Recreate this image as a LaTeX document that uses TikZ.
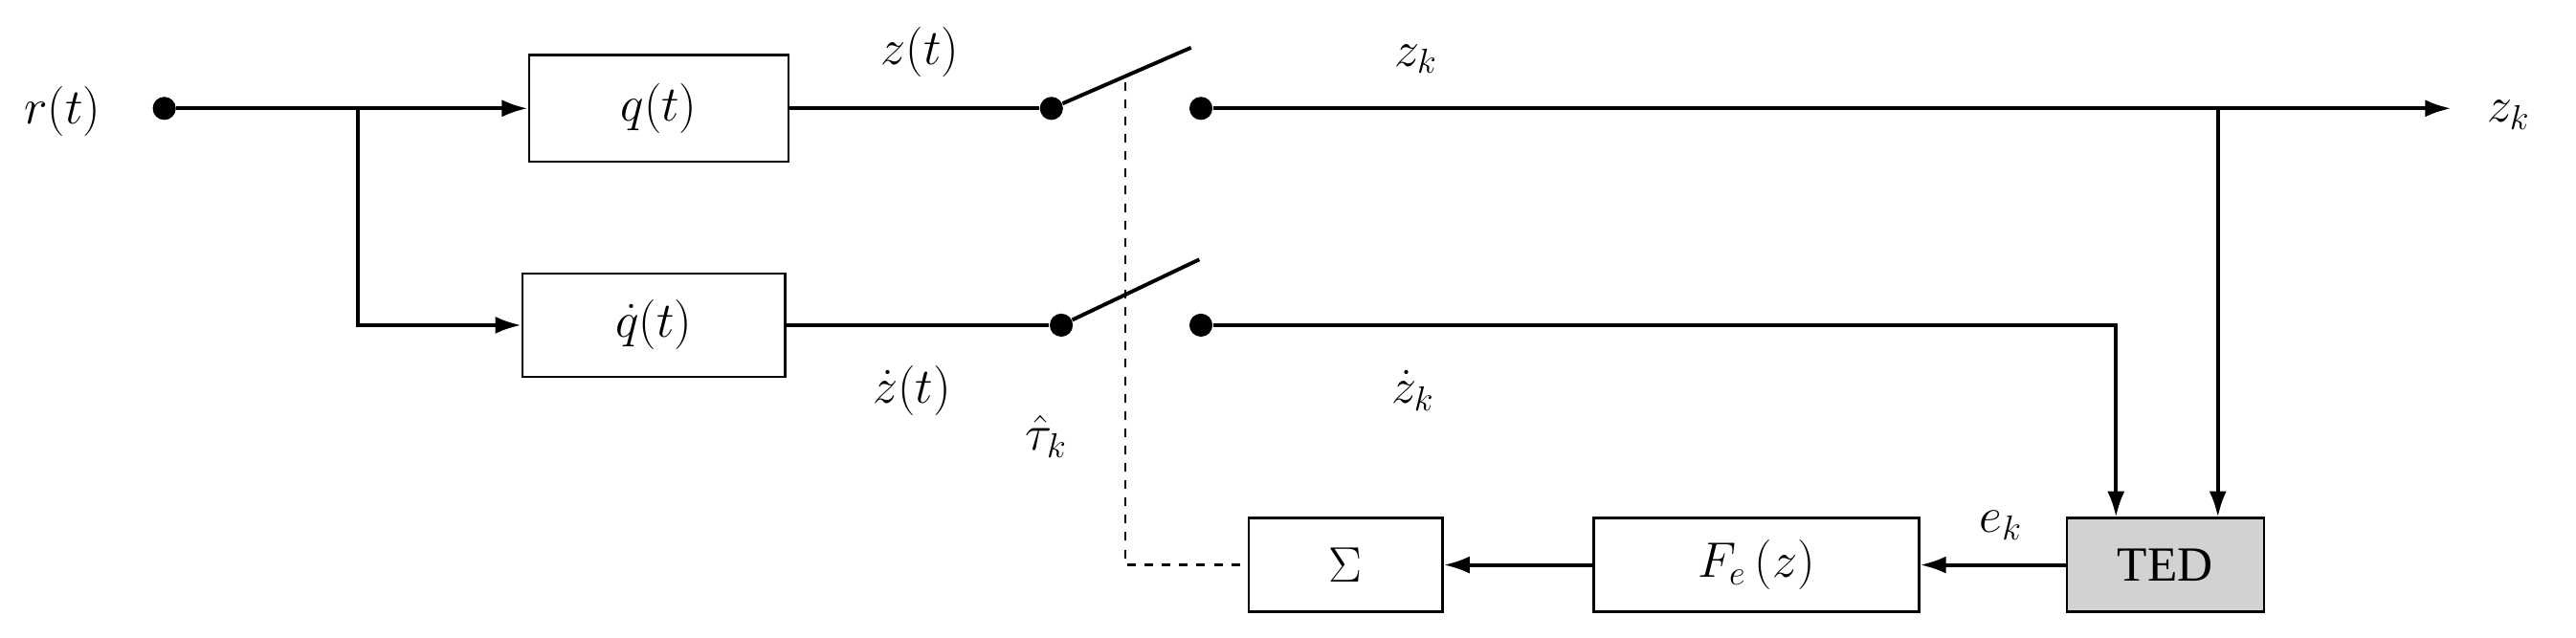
\documentclass[tikz,border=0pt]{standalone}
\usepackage{fontspec}
\setmainfont{Liberation Serif}
\usetikzlibrary{arrows.meta}
\begin{document}
\begin{tikzpicture}[x=0.02cm,y=-0.02cm,
  blk/.style={draw,line width=0.8pt,inner sep=0pt},
  ln/.style={line width=1.3pt},
  arr/.style={ln,-{Latex[length=9pt,width=6pt]}},
  dot/.style={circle,fill,inner sep=0pt,minimum size=8pt},
  lbl/.style={font=\fontsize{17}{20}\selectfont}]
\useasboundingbox (0,0) rectangle (1568,388);
\node[blk,minimum width=158*0.02cm,minimum height=65*0.02cm] (q) at (401,66) {\fontsize{17}{20}\selectfont $q(t)$};
\node[blk,minimum width=160*0.02cm,minimum height=63*0.02cm] (qd) at (398,198) {\fontsize{17}{20}\selectfont $\dot q(t)$};
\node[blk,minimum width=118*0.02cm,minimum height=57*0.02cm] (sig) at (819,344) {\fontsize{17}{20}\selectfont $\Sigma$};
\node[blk,minimum width=198*0.02cm,minimum height=57*0.02cm] (fe) at (1069,344) {\fontsize{17}{20}\selectfont $F_e\,(z)$};
\node[blk,fill=gray!35,minimum width=120*0.02cm,minimum height=57*0.02cm] (ted) at (1318,344) {\fontsize{17}{20}\selectfont TED};
\node[dot] (r) at (100,66) {};
\node[dot] (s1a) at (640,66) {};
\node[dot] (s1b) at (731,66) {};
\node[dot] (s2a) at (646,198) {};
\node[dot] (s2b) at (731,198) {};
\coordinate (br) at (218,66);
\coordinate (out) at (1492,66);
\coordinate (t1) at (725,29);
\coordinate (t2) at (730,158);
\coordinate (d1) at (685,50);
\coordinate (d2) at (685,344);
\node[lbl] at (38,68) {$r(t)$};
\node[lbl] at (560,32) {$z(t)$};
\node[lbl] at (862,36) {$z_k$};
\node[lbl] at (1527,70) {$z_k$};
\node[lbl] at (555,238) {$\dot z(t)$};
\node[lbl] at (860,238) {$\dot z_k$};
\node[lbl] at (637,266) {$\hat\tau_k$};
\node[lbl] at (1218,320) {$e_k$};
\draw[arr] (r) -- (q.west);
\draw[arr] (br) |- (qd.west);
\draw[ln] (q.east) -- (s1a);
\draw[ln] (s1a) -- (t1);
\draw[arr] (s1b) -- (out);
\draw[arr] (1350,66) -- (1350,315);
\draw[ln] (qd.east) -- (s2a);
\draw[ln] (s2a) -- (t2);
\draw[arr] (s2b) -| (1288,315);
\draw[arr] (ted.west) -- (fe.east);
\draw[arr] (fe.west) -- (sig.east);
\draw[dashed,line width=0.8pt] (d1) -- (d2) -- (sig.west);
\end{tikzpicture}
\end{document}
